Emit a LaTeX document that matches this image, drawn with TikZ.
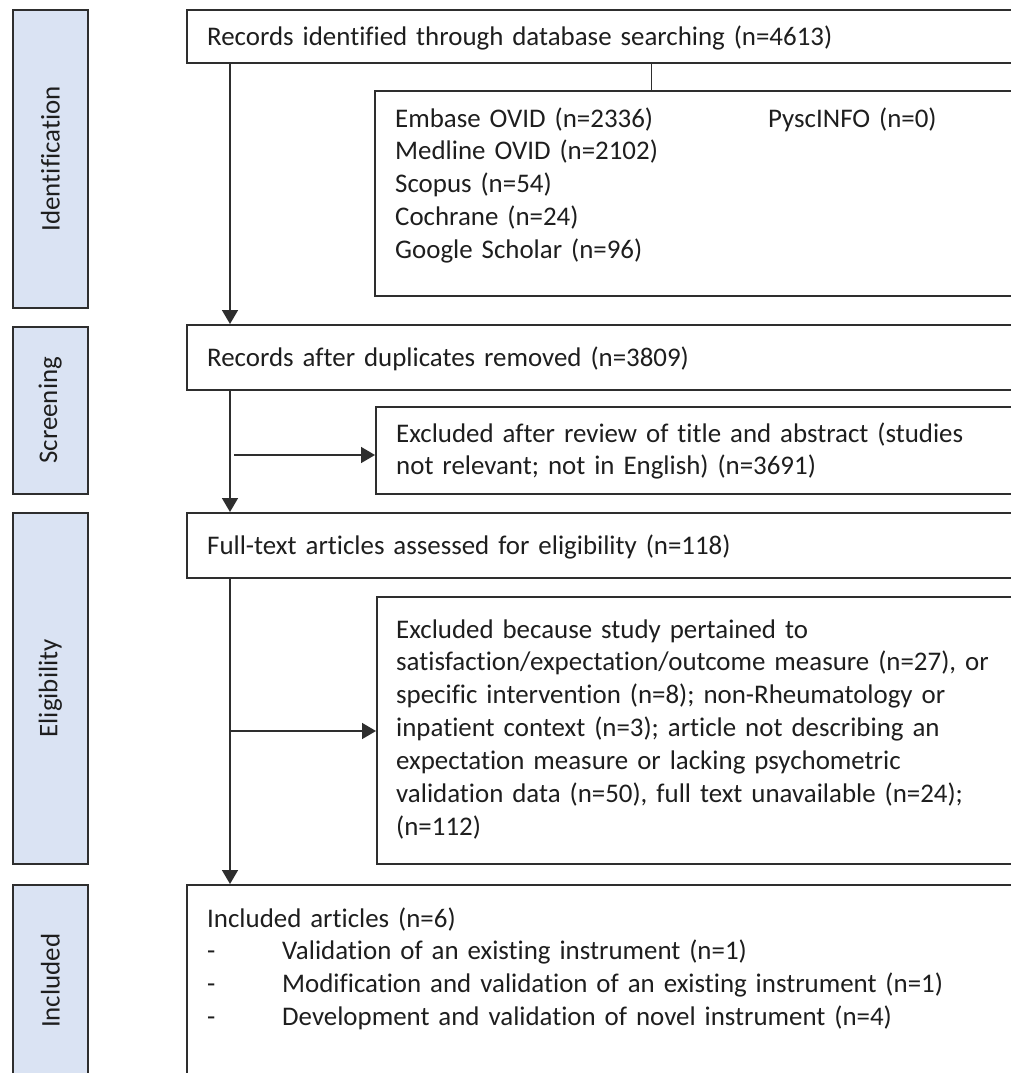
\documentclass[tikz,border=0pt]{standalone}
\usepackage{fontspec}
\setmainfont{Carlito}[Ligatures=NoCommon]
\usetikzlibrary{arrows.meta}
\definecolor{barfill}{HTML}{DAE3F3}
\definecolor{linec}{HTML}{2E2E2E}
\definecolor{txtc}{HTML}{1E1E1E}
\begin{document}
\begin{tikzpicture}[x=1bp,y=-1bp,
  frame/.style={draw=linec, line width=1.6bp, fill=white, inner sep=0pt, anchor=north west},
  bar/.style={draw=linec, line width=1.6bp, fill=barfill, inner sep=0pt, anchor=north west, minimum width=75bp},
  txt/.style={font=\fontsize{27}{33}\selectfont, text=txtc, inner sep=0pt, anchor=base west, align=left, text width=#1},
  txt/.default=640bp,
  lab/.style={font=\fontsize{27}{30}\selectfont, text=txtc, rotate=90, inner sep=0pt},
  arr/.style={draw=linec, line width=1.6bp, -{Triangle[width=16bp,length=14bp]}},
  thin/.style={draw=linec, line width=0.8bp}
]
\useasboundingbox (0,0) rectangle (1011,1073);
\clip (0,0) rectangle (1011,1073);

% phase bars
\node[bar, minimum height=298bp] (b1) at (12,9) {};
\node[bar, minimum height=167bp] (b2) at (12,326) {};
\node[bar, minimum height=351bp] (b3) at (12,512) {};
\node[bar, minimum height=192bp] (b4) at (12,884) {};
\node[lab] (l1) at (b1.center) {Identification};
\node[lab] (l2) at (b2.center) {Screening};
\node[lab] (l3) at (b3.center) {Eligibility};
\node[lab] (l4) at (b4.center) {Included};

% boxes
\node[frame, minimum width=850bp, minimum height=53bp] (top) at (186,9) {};
\node[frame, minimum width=660bp, minimum height=205bp] (src) at (374,90) {};
\node[frame, minimum width=850bp, minimum height=65bp] (dup) at (186,324) {};
\node[frame, minimum width=660bp, minimum height=87bp] (ex1) at (375,406) {};
\node[frame, minimum width=850bp, minimum height=65bp] (ft) at (186,512) {};
\node[frame, minimum width=660bp, minimum height=267bp] (ex2) at (376,596) {};
\node[frame, minimum width=850bp, minimum height=200bp] (inc) at (186,884) {};

% texts
\node[txt=820bp] (t1) at (207,45) {Records identified through database searching (n=4613)};
\node[txt] (t2) at (395,127) {\makebox[373bp][l]{Embase OVID (n=2336)}PyscINFO (n=0)\\
Medline OVID (n=2102)\\
Scopus (n=54)\\
Cochrane (n=24)\\
Google Scholar (n=96)};
\node[txt=820bp] (t3) at (207,366) {Records after duplicates removed (n=3809)};
\node[txt] (t4) at (396,442) {Excluded after review of title and abstract (studies\\
not relevant; not in English) (n=3691)};
\node[txt=820bp] (t5) at (207,554) {Full-text articles assessed for eligibility (n=118)};
\node[txt] (t6) at (396,638) {Excluded because study pertained to\\
satisfaction/expectation/outcome measure (n=27), or\\
specific intervention (n=8); non-Rheumatology or\\
inpatient context (n=3); article not describing an\\
expectation measure or lacking psychometric\\
validation data (n=50), full text unavailable (n=24);\\
(n=112)};
\node[txt=820bp] (t7) at (207,927) {Included articles (n=6)\\
\makebox[75bp][l]{-}Validation of an existing instrument (n=1)\\
\makebox[75bp][l]{-}Modification and validation of an existing instrument (n=1)\\
\makebox[75bp][l]{-}Development and validation of novel instrument (n=4)};

% connectors
\coordinate (sx) at (230,0);
\coordinate (vx) at (651,0);
\draw[arr] (top.south -| sx) -- (dup.north -| sx);
\draw[arr] (dup.south -| sx) -- (ft.north -| sx);
\draw[arr] (ft.south -| sx) -- (inc.north -| sx);
\coordinate (h1) at (234,455);
\draw[arr] (h1) -- (h1 -| ex1.west);
\coordinate (h2) at (230,731);
\draw[arr] (h2) -- (h2 -| ex2.west);
\draw[thin] (top.south -| vx) -- (src.north -| vx);
\end{tikzpicture}
\end{document}
